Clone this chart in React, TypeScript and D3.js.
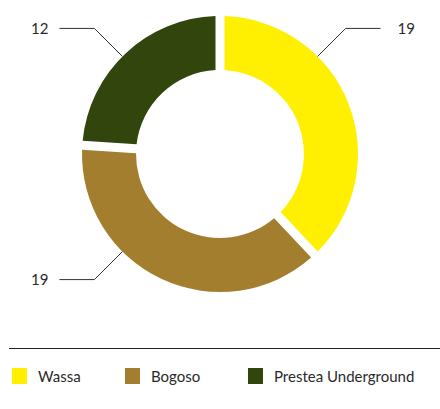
import React from "react";
import * as d3 from "d3";

const categories = ["Wassa", "Bogoso", "Prestea Underground"];
const values = [19, 19, 12];
const labels = ["19", "19", "12"];
const colors = ["#FFEF00", "#A47E2F", "#32450C"];

const W = 440;
const H = 409;
const cx = 220;
const cy = 154;
const outerR = 138;
const innerR = 84;
const FONT = "Lato, 'Open Sans', sans-serif";

export default function App() {
  const pie = d3
    .pie<number>()
    .sort(null)
    .value((d) => d)
    .startAngle(0)
    .endAngle(2 * Math.PI);
  const arcs = pie(values);
  const padR = Math.sqrt(innerR * innerR + outerR * outerR);
  const arcGen = d3
    .arc<d3.PieArcDatum<number>>()
    .innerRadius(innerR)
    .outerRadius(outerR)
    .padAngle(9 / padR)
    .padRadius(padR);

  const legendX = [12, 125, 248];

  return (
    <svg
      width={W}
      height={H}
      style={{ position: "absolute", left: 0, top: 0, background: "#fff" }}
    >
      <g transform={`translate(${cx},${cy})`}>
        {arcs.map((a, i) => (
          <path key={i} d={arcGen(a) || ""} fill={colors[i]} />
        ))}
      </g>
      {arcs.map((a, i) => {
        const mid = (a.startAngle + a.endAngle) / 2;
        const q = Math.floor(mid / (Math.PI / 2));
        const ang = q * (Math.PI / 2) + Math.PI / 4;
        const sx = Math.sin(ang);
        const sy = -Math.cos(ang);
        const px = cx + outerR * sx;
        const py = cy + outerR * sy;
        const ex = px + 28 * Math.sign(sx);
        const ey = py + 28 * Math.sign(sy);
        const hx = ex + 35 * Math.sign(sx);
        const tx = sx > 0 ? hx + 17 : hx - 11;
        return (
          <g key={i}>
            <polyline
              points={`${px},${py} ${ex},${ey} ${hx},${ey}`}
              fill="none"
              stroke="#333"
              strokeWidth={1}
            />
            <text
              x={tx}
              y={ey}
              dy="0.35em"
              textAnchor={sx > 0 ? "start" : "end"}
              fontFamily={FONT}
              fontSize={15}
              fill="#2a2a2a"
            >
              {labels[i]}
            </text>
          </g>
        );
      })}
      <line x1={9} x2={440} y1={348.5} y2={348.5} stroke="#222" strokeWidth={1} />
      {categories.map((c, i) => (
        <g key={c}>
          <rect x={legendX[i]} y={368} width={15} height={16} fill={colors[i]} />
          <text
            x={legendX[i] + 26}
            y={377}
            dy="0.35em"
            fontFamily={FONT}
            fontSize={15}
            fill="#2a2a2a"
          >
            {c}
          </text>
        </g>
      ))}
    </svg>
  );
}
